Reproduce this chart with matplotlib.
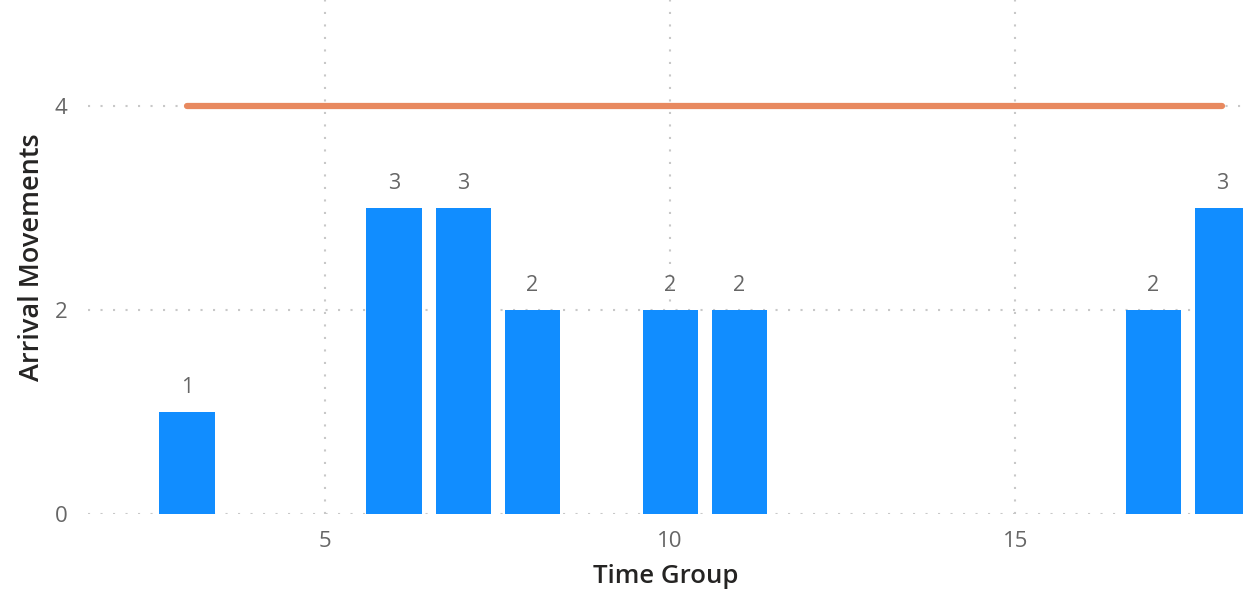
import matplotlib as mpl
import matplotlib.pyplot as plt

# Data
time_group = [3, 6, 7, 8, 10, 11, 17, 18]
arrivals = [1, 3, 3, 2, 2, 2, 2, 3]
limit_x = [3, 18]
limit_y = [4, 4]

BAR = "#118dff"
LINE = "#e8895f"
TICK = "#666666"
TITLE = "#252423"
GRID = "#c8c8c8"

mpl.rcParams.update({"font.family": ["Open Sans", "DejaVu Sans"]})

fig = plt.figure(figsize=(12.43, 5.94), dpi=100)
ax = fig.add_axes([88 / 1243, 80 / 594, 1 - 88 / 1243, 514 / 594])

ax.bar(time_group, arrivals, width=0.8, color=BAR, zorder=2)
ax.plot(limit_x, limit_y, color=LINE, linewidth=4.5, solid_capstyle="round", zorder=3)

for x, y in zip(time_group, arrivals):
    ax.annotate(str(y), (x, y), xytext=(0, 10), textcoords="offset points",
                ha="center", va="bottom", fontsize=15.5, color=TICK)

ax.set_xlim(1.565, 18.3)
ax.set_ylim(0, 5.04)
ax.set_xticks([5, 10, 15])
ax.set_yticks([0, 2, 4])
ax.tick_params(length=0, labelsize=16, colors=TICK)
ax.tick_params(axis="x", pad=12)
ax.tick_params(axis="y", pad=15)

ax.grid(True, color=GRID, linestyle=(0, (1, 5)), linewidth=1.5, zorder=1)
ax.set_axisbelow(True)
for s in ax.spines.values():
    s.set_visible(False)

ax.set_xlabel("Time Group", fontsize=18.5, fontweight="semibold", color=TITLE, labelpad=9)
ax.set_ylabel("Arrival Movements", fontsize=19.5, fontweight="semibold", color=TITLE, labelpad=6)

fig.savefig("out.png", dpi=100)
